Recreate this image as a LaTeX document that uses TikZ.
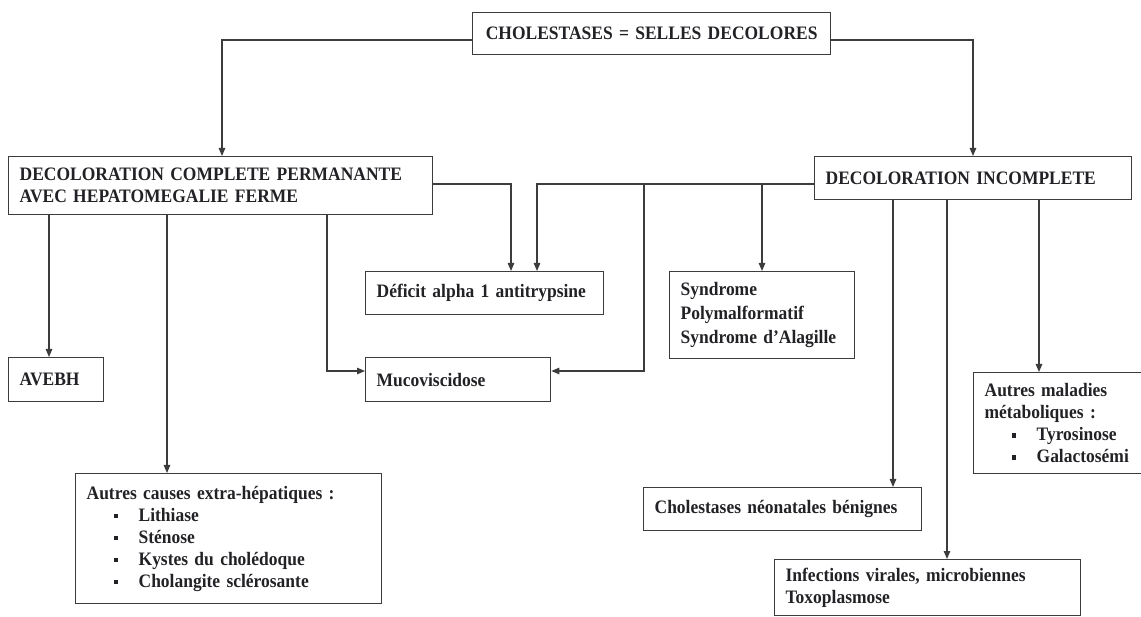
\documentclass[tikz,border=0pt]{standalone}
\usepackage{fontspec}
\setmainfont{Liberation Serif}[FakeStretch=0.92]
\usetikzlibrary{arrows.meta,calc}
\definecolor{ink}{HTML}{222226}
\definecolor{framegray}{HTML}{3C3C3C}
% one bulleted line inside a box: square bullet, then the item text
\newcommand\bulletitem[1]{\\\hspace*{27pt}\raisebox{3pt}{\rule{4.5pt}{4.5pt}}\hspace*{20.5pt}#1}
\begin{document}
\begin{tikzpicture}[x=1pt,y=-1pt,
  box/.style={draw=framegray, line width=1.3pt, anchor=north west, inner xsep=11pt,
              inner ysep=0pt, align=left, text=ink,
              font=\bfseries\fontsize{19}{22}\selectfont},
  wire/.style={draw=framegray, line width=1.2pt},
  link/.style={wire, -{Triangle[length=8pt,width=6.5pt]}}]
\useasboundingbox (0,0) rectangle (1141,617);
\clip (0,0) rectangle (1141,617);

% boxes
\node[box, text width=336pt, minimum height=42pt, align=center] (top) at (472,12)
  {CHOLESTASES = SELLES DECOLORES};
\node[box, text width=402pt, minimum height=58pt] (dcp) at (8,156)
  {DECOLORATION COMPLETE PERMANANTE\\AVEC HEPATOMEGALIE FERME};
\node[box, text width=295pt, minimum height=43pt] (dinc) at (814,156)
  {DECOLORATION INCOMPLETE};
\node[box, text width=216pt, minimum height=43pt] (a1at) at (365,271)
  {Déficit alpha 1 antitrypsine};
\node[box, text width=163pt, minimum height=87pt,
      font=\bfseries\fontsize{19}{24}\selectfont] (alag) at (669,271)
  {Syndrome\\Polymalformatif\\Syndrome d’Alagille};
\node[box, text width=163pt, minimum height=44pt] (muco) at (365,357)
  {Mucoviscidose};
\node[box, text width=73pt, minimum height=44pt] (avebh) at (8,357)
  {AVEBH};
\node[box, text width=284pt, minimum height=130pt] (extra) at (75,473)
  {Autres causes extra-hépatiques :\bulletitem{Lithiase}\bulletitem{Sténose}%
   \bulletitem{Kystes du cholédoque}\bulletitem{Cholangite sclérosante}};
\node[box, text width=256pt, minimum height=43pt] (benign) at (643,487)
  {Cholestases néonatales bénignes};
\node[box, text width=284pt, minimum height=56pt] (infect) at (774,559)
  {Infections virales, microbiennes\\Toxoplasmose};
\node[box, text width=190pt, minimum height=101pt] (metab) at (973,372)
  {Autres maladies\\métaboliques :\bulletitem{Tyrosinose}\bulletitem{Galactosémi}};

% top level split
\draw[link] ($(top.north west)+(0,28)$) -| ($(dcp.north west)+(214,0)$);
\draw[link] ($(top.north east)+(0,28)$) -| ($(dinc.north west)+(159,0)$);

% shared targets between the two branches
\coordinate (hubR) at ($(dinc.north west)+(0,28)$);
\draw[link] ($(dcp.north east)+(0,28)$) -| ($(a1at.north west)+(146,0)$);
\draw[link] (hubR) -| ($(a1at.north west)+(172,0)$);
\draw[link] ($(hubR)+(-170,0)$) |- ($(muco.north east)+(0,14)$);
\draw[link] ($(hubR)+(-52,0)$) -- ($(alag.north west)+(93,0)$);

% complete, permanent discoloration
\draw[link] ($(dcp.south west)+(41,0)$) -- ($(avebh.north west)+(41,0)$);
\draw[link] ($(dcp.south west)+(159,0)$) -- ($(extra.north west)+(92,0)$);
\draw[link] ($(dcp.south west)+(319,0)$) |- ($(muco.north west)+(0,14)$);

% incomplete discoloration
\draw[link] ($(dinc.south west)+(79,0)$) -- ($(benign.north west)+(250,0)$);
\draw[link] ($(dinc.south west)+(133,0)$) -- ($(infect.north west)+(173,0)$);
\draw[link] ($(dinc.south west)+(225,0)$) -- ($(metab.north west)+(66,0)$);
\end{tikzpicture}
\end{document}
